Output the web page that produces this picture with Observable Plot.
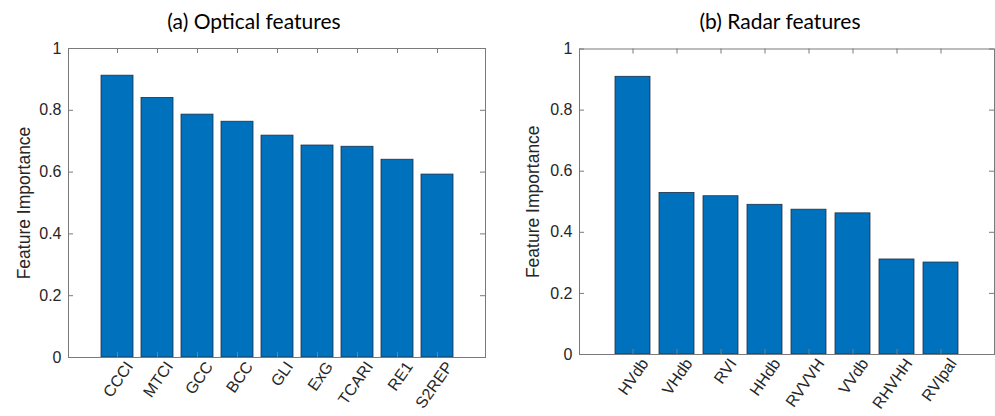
<!DOCTYPE html>
<html><head><meta charset="utf-8">
<script src="https://cdn.jsdelivr.net/npm/d3@7"></script>
<script src="https://cdn.jsdelivr.net/npm/@observablehq/plot@0.6"></script>
<style>
body{margin:0;background:#fff;}
#wrap{position:relative;width:995px;height:416px;overflow:hidden;background:#fff;}
.panel{position:absolute;top:0;}
#wrap svg text{font-family:Arial, "Liberation Sans", sans-serif !important;}
.title{position:absolute;font-family:Lato, "Open Sans", sans-serif;font-size:21px;color:#000;white-space:nowrap;transform:translateX(-50%);line-height:24px;}
</style></head><body>
<div id="wrap"></div>
<script>
const opticalNames = ["CCCI","MTCI","GCC","BCC","GLI","ExG","TCARI","RE1","S2REP"];
const opticalValues = [0.912,0.840,0.786,0.763,0.718,0.686,0.682,0.640,0.592];
const radarNames = ["HVdb","VHdb","RVI","HHdb","RVVVH","VVdb","RHVHH","RVIpal"];
const radarValues = [0.909,0.529,0.518,0.490,0.474,0.462,0.311,0.301];
const yTicks = [0,0.2,0.4,0.6,0.8,1];
const yTickLabels = ["0","0.2","0.4","0.6","0.8","1"];
const titles = ["(a) Optical features","(b) Radar features"];
const yLabel = "Feature Importance";

const axisColor = "#7a7a7a";

function panel(names, values, o) {
  const data = names.map((n,i)=>({name:n, value:values[i]}));
  const W = o.width, H = 416;
  const pw = W - o.ml - o.mr, ph = H - o.mt - o.mb;
  return Plot.plot({
    width: W, height: H, marginLeft: o.ml, marginRight: o.mr, marginTop: o.mt, marginBottom: o.mb,
    style: {fontFamily: "Arial", fontSize: "16px", color: "#262626", background: "transparent", overflow: "visible"},
    x: {type: "band", domain: names, paddingInner: 0.2, paddingOuter: 0.8, align: 0.5},
    y: {domain: [0,1]},
    marks: [
      Plot.barY(data, {x: "name", y: "value", fill: "#0072BD", stroke: "#1c2f45", strokeWidth: 0.8}),
      Plot.tickY(yTicks, {y: d=>d, stroke: axisColor, insetRight: pw-5}),
      Plot.tickY(yTicks, {y: d=>d, stroke: axisColor, insetLeft: pw-5}),
      Plot.tickX(names, {x: d=>d, stroke: axisColor, insetBottom: ph-5}),
      Plot.tickX(names, {x: d=>d, stroke: axisColor, insetTop: ph-5}),
      Plot.frame({stroke: axisColor}),
      Plot.axisY({ticks: yTicks, tickFormat: d => yTickLabels[yTicks.indexOf(d)], tickSize: 0, tickPadding: 7, label: null, fontSize: 16}),
      Plot.axisX({tickSize: 0, tickRotate: -55, tickPadding: 6, label: null, fontSize: 16, dx: 12}),
      Plot.text([yLabel], {text: d=>d, frameAnchor: "left", textAnchor: "middle", lineAnchor: "middle", dx: -o.labelOff, rotate: -90, fontSize: 17.5, fill: "#262626"})
    ]
  });
}

const wrap = document.getElementById("wrap");
const a = panel(opticalNames, opticalValues, {width: 495, ml: 68, mr: 10, mt: 48, mb: 59, labelOff: 44});
a.classList.add("panel"); a.style.left = "0px";
const b = panel(radarNames, radarValues, {width: 500, ml: 84, mr: 1, mt: 48.5, mb: 62, labelOff: 46});
b.classList.add("panel"); b.style.left = "495px";
wrap.appendChild(a); wrap.appendChild(b);

[[titles[0], 254], [titles[1], 780]].forEach(([t, cx]) => {
  const d = document.createElement("div");
  d.className = "title"; d.textContent = t;
  d.style.left = cx + "px"; d.style.top = "9px";
  wrap.appendChild(d);
});
</script>
</body></html>
